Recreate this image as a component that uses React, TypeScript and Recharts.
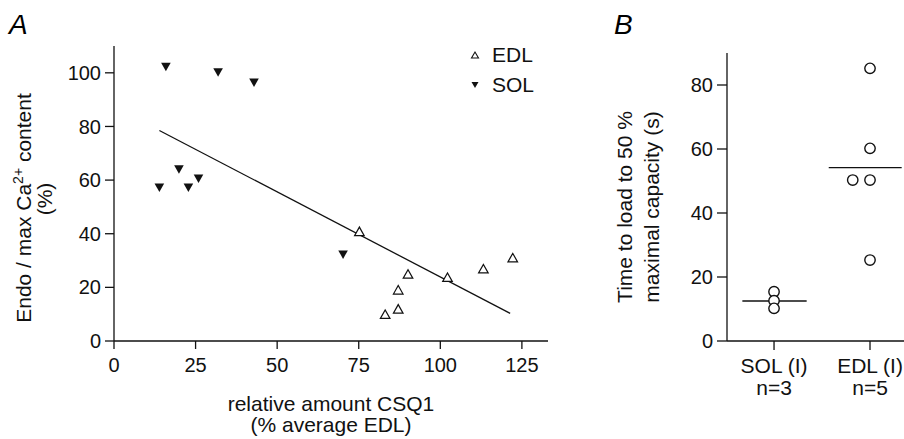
import { ScatterChart, Scatter, XAxis, YAxis, ReferenceLine, Label, Legend } from "recharts";

// Panel A: relative CSQ1 amount vs endo / max Ca2+ content
const solX = [15.9, 31.9, 42.9, 13.9, 19.9, 22.8, 25.9, 70.2];
const solY = [102.3, 100.2, 96.4, 57.2, 64.0, 57.2, 60.6, 32.3];
const edlX = [75.2, 90.1, 87.1, 87.1, 83.1, 102.2, 113.2, 122.2];
const edlY = [40.8, 24.9, 19.0, 11.9, 9.9, 23.7, 26.9, 31.0];
const fitX = [13.9, 121.4];
const fitY = [78.5, 10.3];
const xTicksA = [0, 25, 50, 75, 100, 125];
const yTicksA = [0, 20, 40, 60, 80, 100];

// Panel B: time to load to 50 % capacity
const groupNames = ["SOL (I)", "EDL (I)"];
const groupN = ["n=3", "n=5"];
const solPos = [1, 1, 1];
const solTime = [15.4, 12.6, 10.2];
const edlPos = [2, 2, 1.82, 2, 2];
const edlTime = [85.2, 60.2, 50.3, 50.3, 25.3];
const meanFrom = [0.67, 1.57];
const meanTo = [1.34, 2.33];
const groupMean = [12.5, 54.2];
const yTicksB = [0, 20, 40, 60, 80];

const sol = solX.map((x, i) => ({ x, y: solY[i] }));
const edl = edlX.map((x, i) => ({ x, y: edlY[i] }));
const solB = solPos.map((x, i) => ({ x, y: solTime[i] }));
const edlB = edlPos.map((x, i) => ({ x, y: edlTime[i] }));

const INK = "#111";
const axisLine = { stroke: INK, strokeWidth: 1.3 };
const tickStyle = { fill: INK, fontSize: 20 };

const DownTri = (p: any) => (
  <path d={`M${p.cx - 4.8},${p.cy - 4} L${p.cx + 4.8},${p.cy - 4} L${p.cx},${p.cy + 4.5} Z`} fill={INK} />
);
const UpTri = (p: any) => (
  <path
    d={`M${p.cx - 4.8},${p.cy + 4} L${p.cx + 4.8},${p.cy + 4} L${p.cx},${p.cy - 4.5} Z`}
    fill="#fff"
    stroke={INK}
    strokeWidth={1.2}
  />
);
const OpenCircle = (p: any) => <circle cx={p.cx} cy={p.cy} r={5.2} fill="#fff" stroke={INK} strokeWidth={1.4} />;

const LegendA = () => (
  <div style={{ fontSize: 21, color: INK }}>
    {[
      { name: "EDL", up: true },
      { name: "SOL", up: false },
    ].map((it) => (
      <div key={it.name} style={{ height: 30, display: "flex", alignItems: "center" }}>
        <svg width={16} height={12}>
          {it.up ? (
            <path d="M4.5,9 L11.5,9 L8,3 Z" fill="#fff" stroke={INK} strokeWidth={1.1} />
          ) : (
            <path d="M4.5,3 L11.5,3 L8,9 Z" fill={INK} />
          )}
        </svg>
        <span style={{ marginLeft: 9 }}>{it.name}</span>
      </div>
    ))}
  </div>
);

const GroupTick = (p: any) => {
  const i = Math.round(p.payload.value) - 1;
  return (
    <g transform={`translate(${p.x},${p.y})`}>
      <text textAnchor="middle" fontSize={21} fill={INK}>
        <tspan x={0} y={23}>{groupNames[i]}</tspan>
        <tspan x={0} y={45}>{groupN[i]}</tspan>
      </text>
    </g>
  );
};

export default function App() {
  return (
    <div
      style={{
        position: "absolute",
        left: 0,
        top: 0,
        width: 904,
        height: 439,
        overflow: "hidden",
        background: "#fff",
        fontFamily: "'Liberation Sans', Arial, sans-serif",
      }}
    >
      <span style={{ position: "absolute", left: 9, top: 11, fontSize: 28, lineHeight: "28px", fontStyle: "italic" }}>A</span>
      <span style={{ position: "absolute", left: 614, top: 11, fontSize: 28, lineHeight: "28px", fontStyle: "italic" }}>B</span>

      <div style={{ position: "absolute", left: 0, top: 0 }}>
        <ScatterChart width={560} height={439} margin={{ top: 46, right: 12, left: 0, bottom: 0 }}>
          <XAxis
            type="number"
            dataKey="x"
            domain={[0, 133]}
            ticks={xTicksA}
            allowDataOverflow
            height={98}
            axisLine={axisLine}
            tickLine={axisLine}
            tickSize={8}
            tickMargin={9}
            tick={tickStyle}
          >
            <Label
              content={() => (
                <text textAnchor="middle" fontSize={21} fill={INK}>
                  <tspan x={331} y={411}>relative amount CSQ1</tspan>
                  <tspan x={331} y={432}>(% average EDL)</tspan>
                </text>
              )}
            />
          </XAxis>
          <YAxis
            type="number"
            dataKey="y"
            domain={[0, 110]}
            ticks={yTicksA}
            allowDataOverflow
            width={114}
            axisLine={axisLine}
            tickLine={axisLine}
            tickSize={9}
            tickMargin={4}
            tick={tickStyle}
          >
            <Label
              content={() => (
                <g>
                  <text transform="translate(31,208) rotate(-90)" textAnchor="middle" fontSize={21} fill={INK}>
                    Endo / max Ca
                    <tspan dy={-8} fontSize={14}>2+</tspan>
                    <tspan dy={8}> content</tspan>
                  </text>
                  <text transform="translate(52,199) rotate(-90)" textAnchor="middle" fontSize={21} fill={INK}>
                    (%)
                  </text>
                </g>
              )}
            />
          </YAxis>
          <ReferenceLine
            segment={[
              { x: fitX[0], y: fitY[0] },
              { x: fitX[1], y: fitY[1] },
            ]}
            stroke={INK}
            strokeWidth={1.3}
          />
          <Scatter name="EDL" data={edl} shape={UpTri} isAnimationActive={false} />
          <Scatter name="SOL" data={sol} shape={DownTri} isAnimationActive={false} />
          <Legend
            layout="vertical"
            align="center"
            verticalAlign="middle"
            wrapperStyle={{ top: 40, left: 467, width: 90 }}
            content={() => <LegendA />}
          />
        </ScatterChart>
      </div>

      <div style={{ position: "absolute", left: 560, top: 0 }}>
        <ScatterChart width={360} height={439} margin={{ top: 53, right: 2, left: 0, bottom: 0 }}>
          <XAxis
            type="number"
            dataKey="x"
            domain={[0.51, 2.5]}
            ticks={[1, 2]}
            allowDataOverflow
            height={98}
            axisLine={axisLine}
            tickLine={axisLine}
            tickSize={9}
            tickMargin={0}
            tick={<GroupTick />}
          />
          <YAxis
            type="number"
            dataKey="y"
            domain={[0, 90]}
            ticks={yTicksB}
            allowDataOverflow
            width={167}
            axisLine={axisLine}
            tickLine={axisLine}
            tickSize={10}
            tickMargin={4}
            tick={tickStyle}
          >
            <Label
              content={() => (
                <text transform="translate(65,207) rotate(-90)" textAnchor="middle" fontSize={21} fill={INK}>
                  <tspan x={0} y={7}>Time to load to 50 %</tspan>
                  <tspan x={0} y={34}>maximal capacity (s)</tspan>
                </text>
              )}
            />
          </YAxis>
          {groupMean.map((m, i) => (
            <ReferenceLine
              key={i}
              segment={[
                { x: meanFrom[i], y: m },
                { x: meanTo[i], y: m },
              ]}
              stroke={INK}
              strokeWidth={1.3}
            />
          ))}
          <Scatter data={solB} shape={OpenCircle} isAnimationActive={false} />
          <Scatter data={edlB} shape={OpenCircle} isAnimationActive={false} />
        </ScatterChart>
      </div>
    </div>
  );
}
